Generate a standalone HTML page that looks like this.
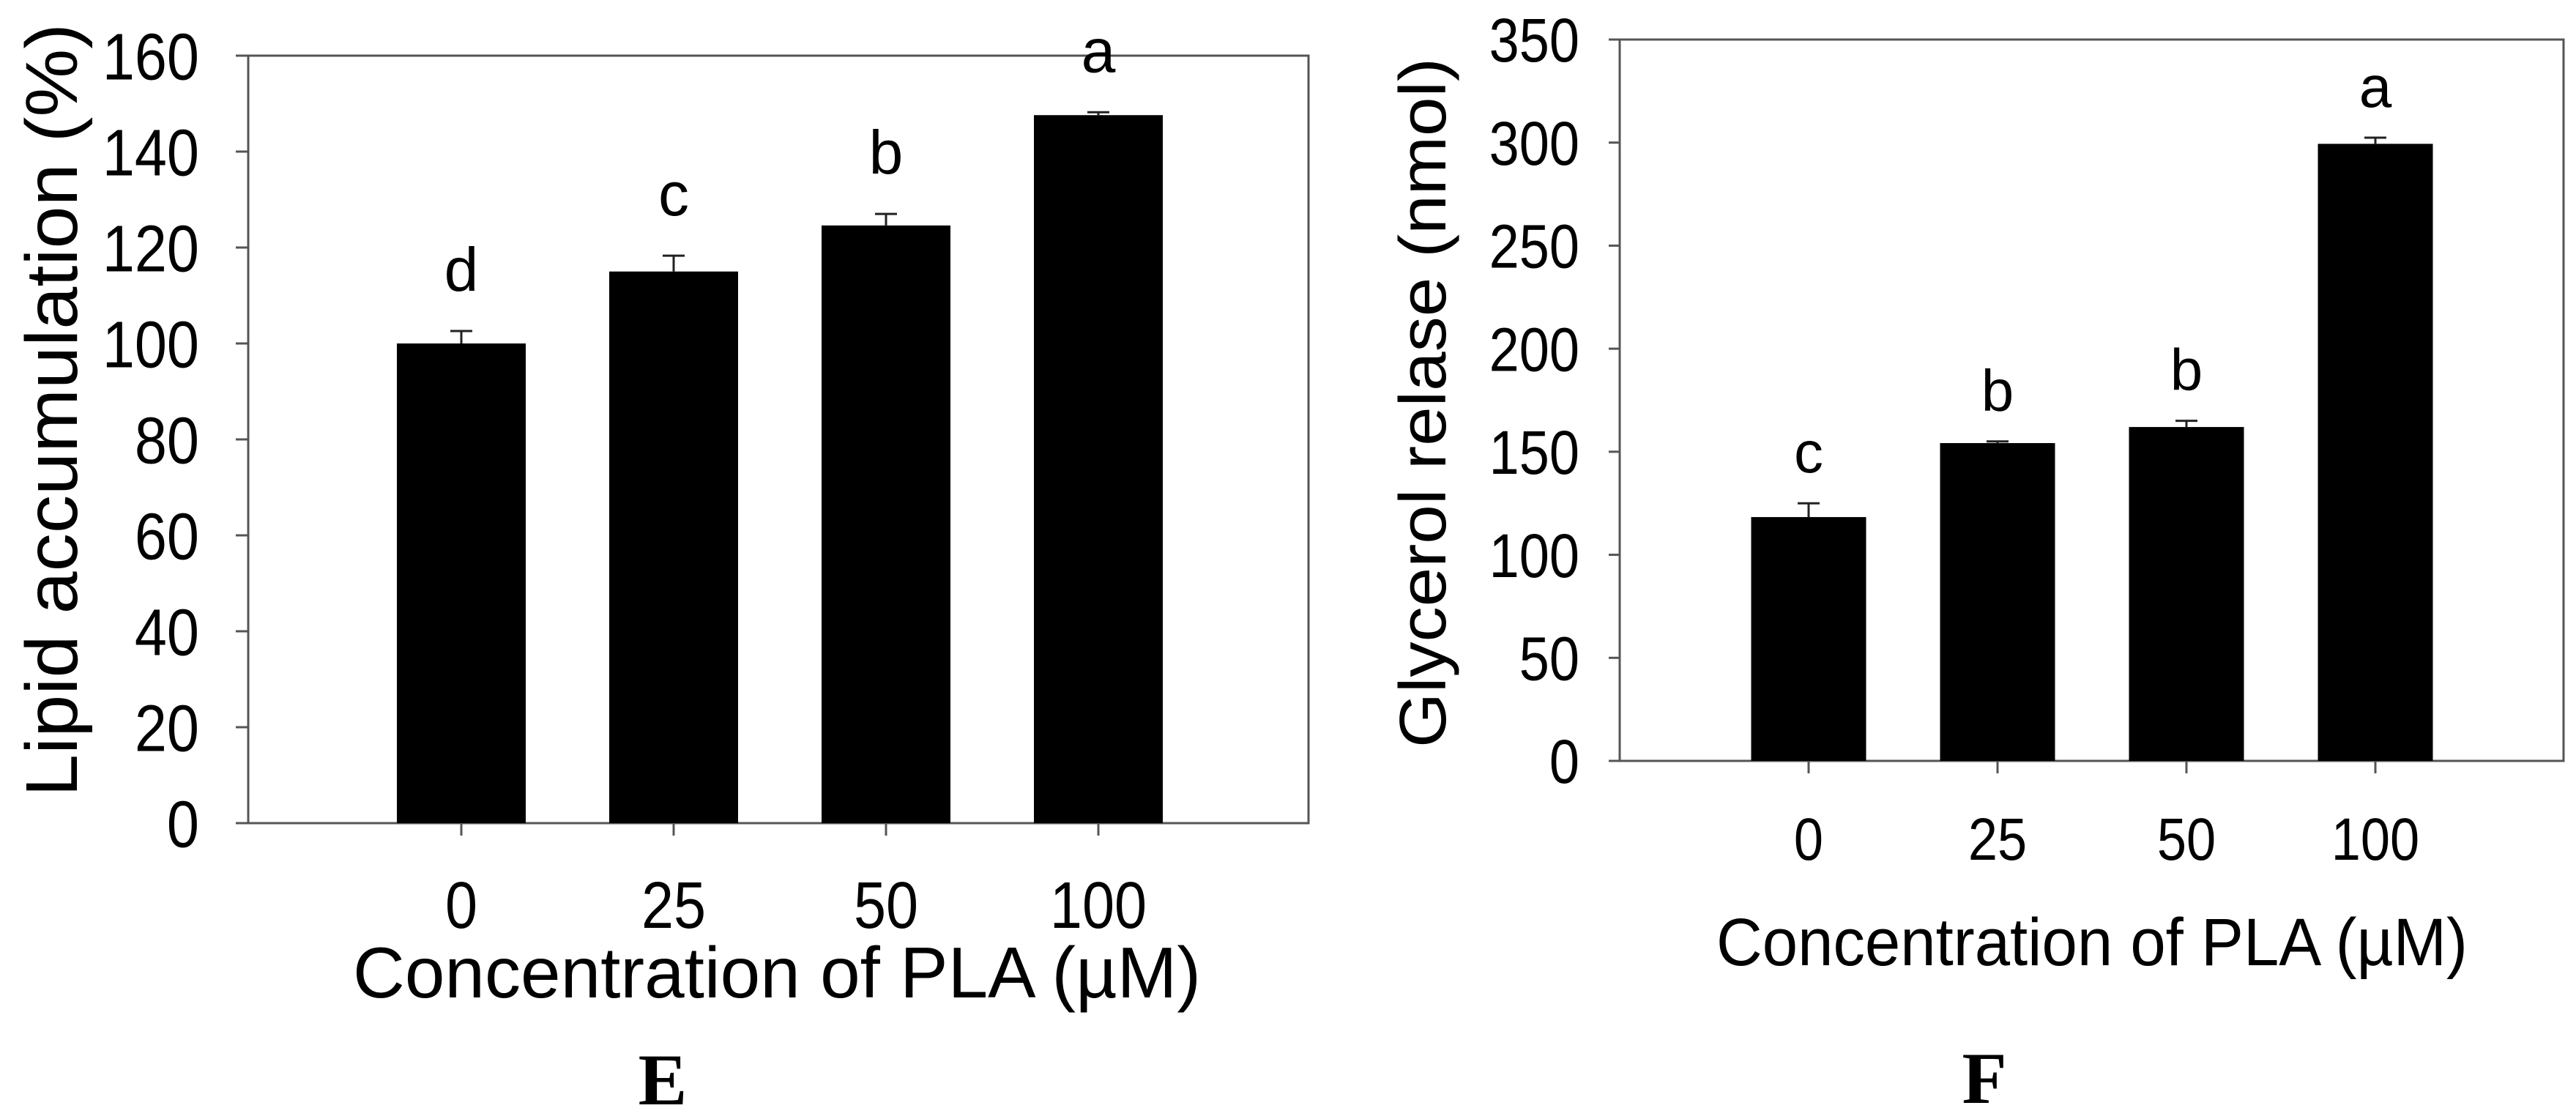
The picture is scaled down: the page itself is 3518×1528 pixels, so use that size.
<!DOCTYPE html>
<html><head><meta charset="utf-8"><style>
html,body{margin:0;padding:0;background:#fff;}
svg{display:block;}
text{font-family:"Liberation Sans",Arial,sans-serif;fill:#000;}
</style></head><body>
<svg id="chart" width="3518" height="1528" viewBox="0 0 3518 1528" xmlns="http://www.w3.org/2000/svg">
<g id="pE"></g>
<g id="pF"></g>
</svg>
<script>
const categories = ["0","25","50","100"];
const lipidValues = [100, 115, 124.6, 147.6];
const lipidErrors = [2.6, 3.3, 2.4, 0.6];
const lipidLetters = ["d","c","b","a"];
const lipidTicks = [0,20,40,60,80,100,120,140,160];
const glycValues = [118.3, 154.2, 162, 299.4];
const glycErrors = [6.7, 0.8, 3, 3];
const glycLetters = ["c","b","b","a"];
const glycTicks = [0,50,100,150,200,250,300,350];

const NS="http://www.w3.org/2000/svg";
function mk(parent,tag,attrs){const e=document.createElementNS(NS,tag);for(const k in attrs)e.setAttribute(k,attrs[k]);parent.appendChild(e);return e;}

function drawPanel(g,cfg,vals,errs,letters,ticks){
  const y=v=>cfg.base-(v-ticks[0])/(ticks[ticks.length-1]-ticks[0])*(cfg.base-cfg.top);
  const x=i=>cfg.x0+i*cfg.step;
  const ax="#555";
  let fr=mk(g,"rect",{x:cfg.left,y:cfg.top,width:cfg.right-cfg.left,height:cfg.base-cfg.top,fill:"none",stroke:ax,"stroke-width":3});
  
  
  ticks.forEach(t=>{
    let l=mk(g,"line",{x1:cfg.left-cfg.tl,x2:cfg.left,y1:y(t),y2:y(t),stroke:ax,"stroke-width":3});
    
    
    let tx=mk(g,"text",{x:cfg.ylabR,y:y(t)+cfg.yfs*0.36,"font-size":cfg.yfs,"text-anchor":"end",transform:`translate(${cfg.ylabR},0) scale(0.88,1) translate(${-cfg.ylabR},0)`});
    tx.textContent=t;
    
    
  });
  vals.forEach((v,i)=>{
    const cx=x(i);
    let b=mk(g,"rect",{x:cx-cfg.bw/2,y:y(v),width:cfg.bw,height:cfg.base-y(v),fill:"#000"});
    
    
    const et=y(v+errs[i]);
    let e=mk(g,"path",{d:`M${cx},${y(v)}V${et}M${cx-15},${et}H${cx+15}`,stroke:"#222","stroke-width":3,fill:"none"});
    
    
    let lt=mk(g,"text",{x:cx,y:et-cfg.letGap,"font-size":cfg.lfs,"text-anchor":"middle"});
    lt.textContent=letters[i];
    
    
    let tk=mk(g,"line",{x1:cx,x2:cx,y1:cfg.base,y2:cfg.base+17,stroke:ax,"stroke-width":3});
    
    
    let xl=mk(g,"text",{x:cx,y:cfg.xlabY,"font-size":cfg.xfs,"text-anchor":"middle",transform:`translate(${cx},0) scale(0.88,1) translate(${-cx},0)`});
    xl.textContent=categories[i];
    
    
  });
  let xt=mk(g,"text",{x:cfg.xtX,y:cfg.xtY,"font-size":cfg.xtfs,"text-anchor":"middle",textLength:cfg.xtLen,lengthAdjust:"spacingAndGlyphs"});
  xt.textContent="Concentration of PLA (\u00b5M)";
  
  
  let yt=mk(g,"text",{x:0,y:0,"font-size":cfg.ytfs,"text-anchor":"middle",textLength:cfg.ytLen,lengthAdjust:"spacingAndGlyphs",transform:`translate(${cfg.ytX},${cfg.ytY}) rotate(-90)`});
  yt.textContent=cfg.ytitle;
  
  
  let pl=mk(g,"text",{x:cfg.plX,y:cfg.plY,"font-size":100,"text-anchor":"middle","font-weight":"bold",style:'font-family:"Liberation Serif",serif'});
  pl.textContent=cfg.panel;
  
  
}

drawPanel(document.getElementById("pE"),{
  left:339,right:1787,top:76,base:1124,tl:17,x0:630,step:290,bw:176,
  ylabR:272,yfs:90,lfs:84,letGap:55,xfs:90,xlabY:1267,
  xtX:1061,xtY:1362,xtfs:98,xtLen:1158,
  ytX:105,ytY:560,ytfs:100,ytLen:1056,ytitle:"Lipid accumulation (%)",
  panel:"E",plX:905,plY:1508
},lipidValues,lipidErrors,lipidLetters,lipidTicks);

drawPanel(document.getElementById("pF"),{
  left:2212,right:3501,top:54,base:1039,tl:15,x0:2470,step:258,bw:157,
  ylabR:2157,yfs:84,lfs:80,letGap:42,xfs:82,xlabY:1174,
  xtX:2857,xtY:1318,xtfs:92,xtLen:1026,
  ytX:1974,ytY:550,ytfs:90,ytLen:942,ytitle:"Glycerol relase (nmol)",
  panel:"F",plX:2710,plY:1506
},glycValues,glycErrors,glycLetters,glycTicks);
</script>
</body></html>
